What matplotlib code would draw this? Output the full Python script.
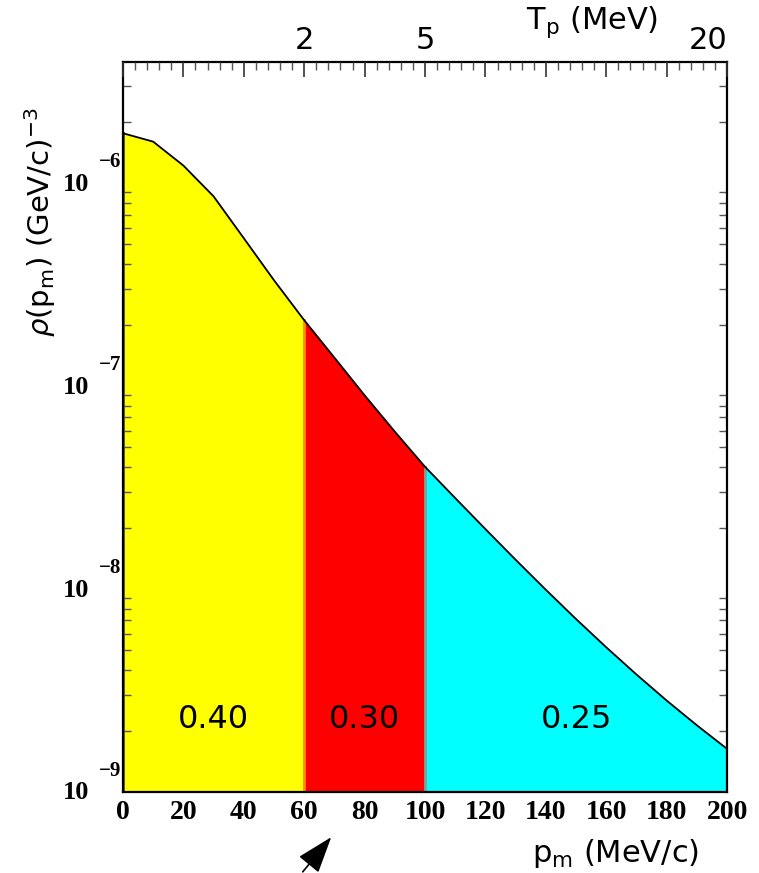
import matplotlib
matplotlib.use('Agg')
import matplotlib.pyplot as plt
import matplotlib.transforms as mtransforms
from matplotlib.ticker import FixedLocator, MultipleLocator, LogLocator, NullFormatter, FuncFormatter

# ---- data ----
p_m = [0, 10, 20, 30, 40, 50, 60, 70, 80, 90, 100,
       110, 120, 130, 140, 150, 160, 170, 180, 190, 200]
density = [1.76e-6, 1.60e-6, 1.22e-6, 8.6e-7, 5.35e-7, 3.32e-7, 2.11e-7,
           1.38e-7, 9.0e-8, 5.96e-8, 4.0e-8, 2.805e-8, 1.972e-8, 1.393e-8,
           9.91e-9, 7.11e-9, 5.16e-9, 3.79e-9, 2.82e-9, 2.13e-9, 1.63e-9]
region_edges = [0, 60, 100, 200]
region_colors = ['#ffff00', '#ff0000', '#00ffff']
region_fractions = ['0.40', '0.30', '0.25']
x_ticks = [0, 20, 40, 60, 80, 100, 120, 140, 160, 180, 200]
y_decades = [-9, -8, -7, -6]
tp_tick_pos = [60, 100, 200]
tp_tick_labels = ['2', '5', '20']

plt.rcParams['mathtext.fontset'] = 'dejavusans'

fig = plt.figure(figsize=(7.59, 8.73), dpi=100)
ax = fig.add_axes([0.162, 0.0928, 0.796, 0.8362])
ax.set_yscale('log')
ymin, ymax = 1e-9, 3.95e-6
ax.set_ylim(ymin, ymax)
ax.set_xlim(0, 200)

# filled regions
for (lo, hi), col in zip(zip(region_edges[:-1], region_edges[1:]), region_colors):
    xs = [p for p in p_m if lo <= p <= hi]
    ys = [d for p, d in zip(p_m, density) if lo <= p <= hi]
    ax.fill_between(xs, ys, ymin, color=col, lw=0, zorder=1)

# boundaries between regions
edge_cols = ['#555555', '#ff8c00', '#7f9f9f', '#336666']
for e, c in zip(region_edges, edge_cols):
    d = density[p_m.index(e)]
    ax.plot([e, e], [ymin, d], color=c, lw=2, zorder=2)

ax.plot(p_m, density, color='black', lw=1.3, zorder=3)

# region fraction labels
for (lo, hi), txt in zip(zip(region_edges[:-1], region_edges[1:]), region_fractions):
    ax.text((lo + hi) / 2, 2.27e-9, txt, ha='center', va='center',
            fontsize=23, family='DejaVu Sans', zorder=4)

# spines
for s in ax.spines.values():
    s.set_linewidth(1.6)
    s.set_color('black')
    s.set_zorder(5)

# x axis (bottom)
ax.xaxis.set_major_locator(FixedLocator(x_ticks))
ax.set_xticklabels([str(t) for t in x_ticks], family='Liberation Serif',
                   fontweight='bold', fontsize=20)
ax.tick_params(axis='x', which='both', bottom=True, top=False, length=0, pad=6)

# y axis
ax.yaxis.set_major_locator(FixedLocator([10.0 ** d for d in y_decades]))
ax.yaxis.set_minor_locator(LogLocator(base=10, subs=range(2, 10)))
ax.yaxis.set_major_formatter(NullFormatter())
ax.yaxis.set_minor_formatter(NullFormatter())
ax.tick_params(axis='y', which='major', direction='in', length=12, width=1.2,
               left=True, right=True, color='#333333')
ax.tick_params(axis='y', which='minor', direction='in', length=6, width=1.0,
               left=True, right=True, color='#555555')

# manual y tick labels "10" with superscript exponent
ytrans = ax.get_yaxis_transform()
for d in y_decades:
    base_tr = mtransforms.offset_copy(ytrans, fig=fig, x=-47, y=-1, units='dots')
    ax.text(0, 10.0 ** d, '10', transform=base_tr, ha='center', va='center',
            family='Liberation Serif', fontweight='bold', fontsize=19, clip_on=False)
    exp_tr = mtransforms.offset_copy(ytrans, fig=fig, x=-13, y=21, units='dots')
    ax.text(0, 10.0 ** d, '\u2212%d' % abs(d), transform=exp_tr, ha='center', va='center',
            family='Liberation Serif', fontweight='bold', fontsize=15, clip_on=False)

# top axis (T_p)
ax2 = ax.twiny()
ax2.set_xlim(ax.get_xlim())
ax2.xaxis.set_major_locator(FixedLocator(x_ticks))
ax2.xaxis.set_minor_locator(MultipleLocator(4))
lab_map = dict(zip(tp_tick_pos, tp_tick_labels))
ax2.xaxis.set_major_formatter(FuncFormatter(lambda v, pos: lab_map.get(int(round(v)), '')))
ax2.tick_params(axis='x', which='major', direction='in', length=11, width=1.2,
                labelsize=22, pad=5, color='#333333')
ax2.tick_params(axis='x', which='minor', direction='in', length=6, width=1.0,
                color='#555555')
for lbl in ax2.get_xticklabels():
    lbl.set_family('DejaVu Sans')
fig.canvas.draw()
for t in ax2.get_xticklabels():
    if t.get_text() == tp_tick_labels[-1]:
        t.set_ha('right')
ax2.set_yticks([])
for s in ax2.spines.values():
    s.set_visible(False)

# axis titles
fig.text(592 / 759, 1 - 22 / 873, r'T$_\mathrm{p}$ (MeV)', ha='center', va='center',
         fontsize=22, family='DejaVu Sans')
fig.text(616 / 759, 1 - 853 / 873, r'p$_\mathrm{m}$ (MeV/c)', ha='center', va='center',
         fontsize=22, family='DejaVu Sans')
fig.text(40 / 759, 1 - 222 / 873, r'$\rho(\mathrm{p_m})\ \mathrm{(GeV/c)^{-3}}$',
         rotation=90, ha='center', va='center', fontsize=21)

# arrow below the axis
fig.patches.append(matplotlib.patches.FancyArrowPatch(
    (301, -1), (333, 38), transform=None,
    arrowstyle='-|>,head_length=1.15,head_width=0.4', mutation_scale=20,
    color='black', lw=1.2))

fig.savefig('out.png', dpi=100)
